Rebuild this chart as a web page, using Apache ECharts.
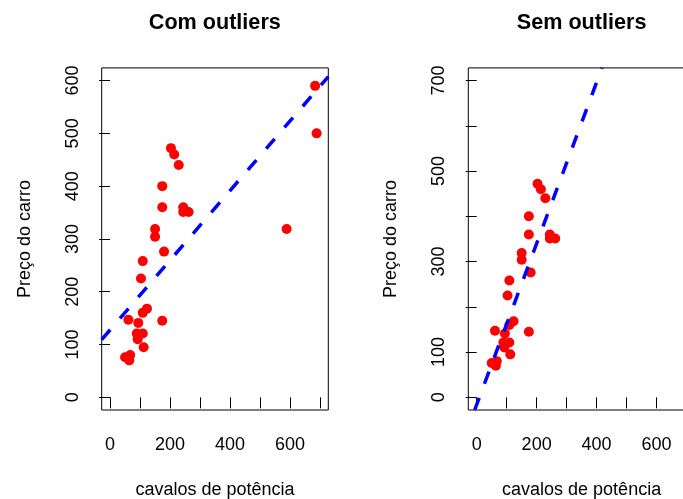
<!DOCTYPE html>
<html><head><meta charset="utf-8">
<script src="https://cdn.jsdelivr.net/npm/echarts@6/dist/echarts.min.js"></script>
<style>html,body{margin:0;padding:0;background:#fff}#c{width:683px;height:499px}</style>
</head><body><div id="c"></div>
<script>
// ---- data ----
const hpSem    = [203, 214, 229, 174, 174, 244, 244, 262, 150, 150, 180, 109, 103, 123, 109, 61, 174, 94, 89, 109, 92, 112, 50, 67, 64];
const precoSem = [472, 460, 440, 400, 360, 360, 351, 351, 319, 304, 276, 258, 225, 168, 160, 147, 145, 141, 121, 121, 110, 95, 76, 80, 70];
const hpOutliers    = [684, 689, 589];
const precoOutliers = [590, 500, 319];

const xLim = [0, 700];
const yLimCom = [0, 600];
const yLimSem = [0, 700];
const xTicks = [0, 100, 200, 300, 400, 500, 600, 700];
const xTickLabels = [0, 200, 400, 600];
const yTicksCom = [0, 100, 200, 300, 400, 500, 600];
const yTickLabelsCom = [0, 100, 200, 300, 400, 500, 600];
const yTicksSem = [0, 100, 200, 300, 400, 500, 600, 700];
const yTickLabelsSem = [0, 100, 300, 500, 700];

const fitCom = [127.8, 0.659];   // intercept, slope
const fitSem = [-16, 1.78];

const titles = ['Com outliers', 'Sem outliers'];
const xName = 'cavalos de potência';
const yName = 'Preço do carro';

// ---- helpers ----
const FONT = "'Liberation Sans', Arial, Helvetica, sans-serif";
function ext(l) { const d = (l[1] - l[0]) * 0.04; return [l[0] - d, l[1] + d]; }
function fitLine(fit, xr, yr) {
  const [a, b] = fit;
  const xa = (yr[0] - a) / b, xb = (yr[1] - a) / b;
  const lo = Math.max(xr[0], Math.min(xa, xb)), hi = Math.min(xr[1], Math.max(xa, xb));
  return [[lo, a + b * lo], [hi, a + b * hi]];
}
const xr = ext(xLim), yrCom = ext(yLimCom), yrSem = ext(yLimSem);

function xAxis(gi) {
  return {
    gridIndex: gi, type: 'value', min: xr[0], max: xr[1],
    axisLine: { show: false },
    axisTick: { show: true, length: 11, lineStyle: { color: '#000', width: 1 }, customValues: xTicks },
    axisLabel: { customValues: xTickLabels, margin: 26, fontSize: 18, color: '#000', fontFamily: FONT },
    splitLine: { show: false },
    name: xName, nameLocation: 'middle', nameGap: 71,
    nameTextStyle: { fontSize: 18, color: '#000', fontFamily: FONT }
  };
}
function yAxis(gi, yr, ticks, labels) {
  return {
    gridIndex: gi, type: 'value', min: yr[0], max: yr[1],
    axisLine: { show: false },
    axisTick: { show: true, length: 11, lineStyle: { color: '#000', width: 1 }, customValues: ticks },
    axisLabel: { customValues: labels, rotate: 90, margin: 20, fontSize: 18, color: '#000', fontFamily: FONT },
    splitLine: { show: false },
    name: yName, nameLocation: 'middle', nameGap: 68,
    nameTextStyle: { fontSize: 18, color: '#000', fontFamily: FONT }
  };
}

const pts = (xs, ys) => xs.map((x, i) => [x, ys[i]]);
const allHp = hpSem.concat(hpOutliers), allPreco = precoSem.concat(precoOutliers);

const chart = echarts.init(document.getElementById('c'), null, { renderer: 'canvas' });
chart.setOption({
  animation: false,
  backgroundColor: '#fff',
  textStyle: { fontFamily: FONT },
  title: [
    { text: titles[0], left: 214.8, top: 12, textAlign: 'center', padding: 0,
      textStyle: { fontSize: 21.6, fontWeight: 'bold', color: '#000', fontFamily: FONT } },
    { text: titles[1], left: 581.6, top: 12, textAlign: 'center', padding: 0,
      textStyle: { fontSize: 21.6, fontWeight: 'bold', color: '#000', fontFamily: FONT } }
  ],
  grid: [
    { left: 101.7, top: 67.9, width: 226.6, height: 342.1, show: true, borderColor: '#000', borderWidth: 1, backgroundColor: 'transparent', containLabel: false, outerBoundsMode: 'none' },
    { left: 468.3, top: 67.9, width: 226.6, height: 342.1, show: true, borderColor: '#000', borderWidth: 1, backgroundColor: 'transparent', containLabel: false, outerBoundsMode: 'none' }
  ],
  xAxis: [xAxis(0), xAxis(1)],
  yAxis: [yAxis(0, yrCom, yTicksCom, yTickLabelsCom), yAxis(1, yrSem, yTicksSem, yTickLabelsSem)],
  series: [
    { type: 'scatter', xAxisIndex: 0, yAxisIndex: 0, data: pts(allHp, allPreco), symbol: 'circle', symbolSize: 10,
      itemStyle: { color: '#ff0000', opacity: 1 }, silent: true },
    { type: 'line', xAxisIndex: 0, yAxisIndex: 0, data: fitLine(fitCom, xr, yrCom), showSymbol: false, symbol: 'none', clip: true,
      lineStyle: { color: '#0000ff', width: 3.5, type: [13, 15], cap: 'butt' }, silent: true },
    { type: 'scatter', xAxisIndex: 1, yAxisIndex: 1, data: pts(hpSem, precoSem), symbol: 'circle', symbolSize: 10,
      itemStyle: { color: '#ff0000', opacity: 1 }, silent: true },
    { type: 'line', xAxisIndex: 1, yAxisIndex: 1, data: fitLine(fitSem, xr, yrSem), showSymbol: false, symbol: 'none', clip: true,
      lineStyle: { color: '#0000ff', width: 3.5, type: [13, 15], cap: 'butt' }, silent: true }
  ]
});
</script></body></html>
